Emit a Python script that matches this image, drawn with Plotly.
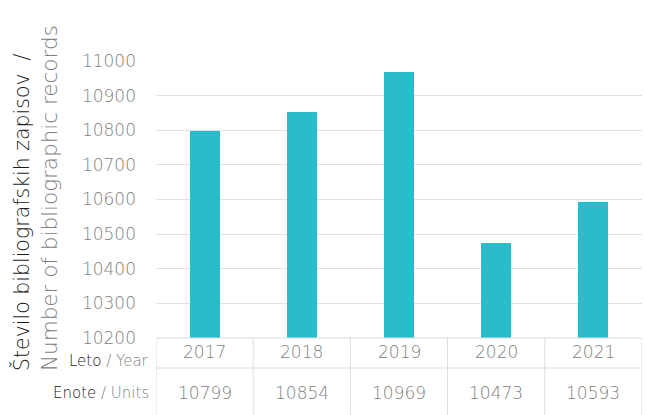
import plotly.graph_objects as go

years = ["2017", "2018", "2019", "2020", "2021"]
units = [10799, 10854, 10969, 10473, 10593]
y_ticks = [10200, 10300, 10400, 10500, 10600, 10700, 10800, 10900, 11000]

W, H = 646, 415
L, R, T, B = 156, 4, 61, 77
PH = H - T - B
PW = W - L - R

def py(p):
    return (H - B - p) / PH

def px(p):
    return (p - L) / PW

FONT = "DejaVu Sans"
GRAY = "#808080"
BLACK = "#1a1a1a"
LINE = "#dcdcdc"
BAR = "#2bbccc"

fig = go.Figure(go.Bar(x=list(range(len(years))), y=units, marker_color=BAR, width=0.31,
                       marker_line_width=0, hoverinfo="skip"))

shapes = []
for p in [H - B, 368]:
    shapes.append(dict(type="line", xref="paper", yref="paper", x0=0, x1=1,
                       y0=py(p), y1=py(p), line=dict(color=LINE, width=1)))
for i in range(len(years) + 1):
    shapes.append(dict(type="line", xref="x", yref="paper", x0=i - 0.5, x1=i - 0.5,
                       y0=py(H - B), y1=py(415), line=dict(color=LINE, width=1)))

ann = []
for i, (yr, u) in enumerate(zip(years, units)):
    ann.append(dict(x=i, y=py(352), xref="x", yref="paper", text=yr, showarrow=False,
                    font=dict(family=FONT, size=17, color=GRAY, weight=200), yanchor="middle"))
    ann.append(dict(x=i, y=py(393), xref="x", yref="paper", text=str(u), showarrow=False,
                    font=dict(family=FONT, size=17, color=GRAY, weight=200), yanchor="middle"))

ann.append(dict(x=px(151), y=py(361), xref="paper", yref="paper", xanchor="right",
                yanchor="middle", showarrow=False,
                text="<span style='color:%s'>Leto</span> / Year" % BLACK,
                font=dict(family=FONT, size=15, color=GRAY, weight=200)))
ann.append(dict(x=px(151), y=py(393), xref="paper", yref="paper", xanchor="right",
                yanchor="middle", showarrow=False,
                text="<span style='color:%s'>Enote</span> / Units" % BLACK,
                font=dict(family=FONT, size=15, color=GRAY, weight=200)))

ann.append(dict(x=px(21), y=py(373), xref="paper", yref="paper", xanchor="center",
                yanchor="bottom", textangle=-90, showarrow=False,
                text="Število bibliografskih zapisov  /",
                font=dict(family=FONT, size=20.5, color=BLACK, weight=200)))
ann.append(dict(x=px(49), y=py(373), xref="paper", yref="paper", xanchor="center",
                yanchor="bottom", textangle=-90, showarrow=False,
                text="Number of bibliographic records",
                font=dict(family=FONT, size=21.5, color=GRAY, weight=200)))

fig.update_layout(
    width=W, height=H,
    margin=dict(l=L, r=R, t=T, b=B),
    plot_bgcolor="white", paper_bgcolor="white",
    showlegend=False,
    shapes=shapes, annotations=ann,
    xaxis=dict(showticklabels=False, showgrid=False, zeroline=False,
               range=[-0.5, 4.5], showline=False, ticks=""),
    yaxis=dict(range=[10200, 11000], tickvals=y_ticks, ticktext=[str(v) for v in y_ticks],
               showgrid=True, gridcolor="#e2e2e2",
               gridwidth=1, zeroline=False, showline=False,
               ticklabelstandoff=19,
               tickfont=dict(family=FONT, size=17, color=GRAY, weight=200)),
    bargap=0,
)

fig.write_html("out.html", config={"displayModeBar": False},
               post_script="document.body.style.margin='0';")
